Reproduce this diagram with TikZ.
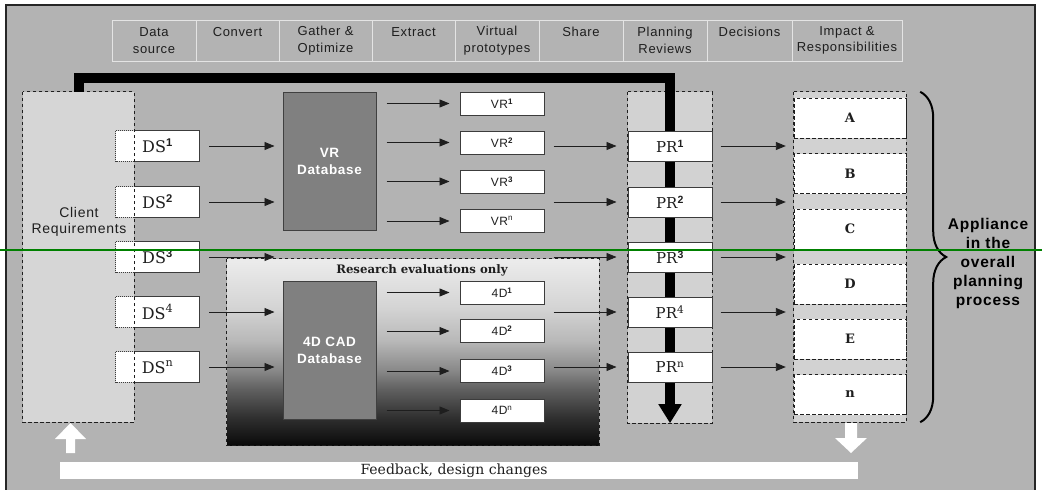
\documentclass[tikz,border=0pt]{standalone}
\usepackage{fontspec}
\setmainfont{DejaVu Serif}
\newfontfamily\sansf{Liberation Sans}[LetterSpace=5]
\newfontfamily\seriff{DejaVu Serif}
\usetikzlibrary{arrows.meta,decorations.pathreplacing,calc}

\definecolor{bg}{RGB}{179,179,179}
\definecolor{hatch}{RGB}{210,210,210}
\definecolor{hatchlight}{RGB}{214,214,214}
\definecolor{dbfill}{RGB}{128,128,128}
\definecolor{dbline}{RGB}{64,64,64}
\definecolor{ink}{RGB}{30,30,30}
\definecolor{boxline}{RGB}{60,60,60}
\definecolor{cellline}{RGB}{228,228,228}
\definecolor{markgreen}{RGB}{0,128,0}
\definecolor{rs0}{RGB}{10,10,10}
\definecolor{rs1}{RGB}{48,48,48}
\definecolor{rs2}{RGB}{96,96,96}
\definecolor{rs3}{RGB}{136,136,136}
\definecolor{rs4}{RGB}{184,184,184}
\definecolor{rs5}{RGB}{212,212,212}
\definecolor{rs6}{RGB}{236,236,236}
% vertical fade of the research area (path spans 25bp..75bp)
\pgfdeclareverticalshading{researchfade}{100bp}{color(0bp)=(rs0); color(25bp)=(rs0);
  color(32.5bp)=(rs1); color(40bp)=(rs2); color(45bp)=(rs3); color(53bp)=(rs4);
  color(62bp)=(rs5); color(75bp)=(rs6); color(100bp)=(rs6)}

\newcommand\supb[1]{\textsuperscript{\sansf\bfseries #1}}
\newcommand\sups[1]{\textsuperscript{#1}}

\tikzset{
  hdrcell/.style={draw=cellline, line width=1pt, minimum height=41pt, inner sep=0pt,
    align=center, text=ink, font=\sansf\fontsize{13}{16.5}\selectfont},
  dashline/.style={draw=ink, line width=0.9pt, dash pattern=on 3.5pt off 2.5pt},
  dotline/.style={draw=boxline, line width=0.8pt, dash pattern=on 1pt off 1pt},
  solidline/.style={draw=boxline, line width=1pt},
  dsbox/.style={fill=white, minimum width=83pt, minimum height=30pt, inner sep=0pt,
    text=ink, font=\seriff\fontsize{16}{18}\selectfont},
  prbox/.style={solidline, fill=white, minimum width=84pt, minimum height=30pt, inner sep=0pt,
    text=ink, font=\seriff\fontsize{15}{18}\selectfont},
  smallbox/.style={solidline, fill=white, minimum width=84pt, minimum height=23pt, inner sep=0pt,
    text=ink, font=\sansf\fontsize{12}{14}\selectfont},
  dbbox/.style={draw=dbline, line width=1pt, fill=dbfill, minimum width=93pt, minimum height=138pt,
    inner sep=0pt, align=center, text=white, font=\sansf\bfseries\fontsize{13.5}{17}\selectfont},
  secbox/.style={dashline, fill=white, minimum width=112pt, minimum height=40pt, inner sep=0pt,
    text=ink, font=\seriff\bfseries\fontsize{13}{15}\selectfont},
  flow/.style={draw=ink, line width=0.9pt, -{Triangle[length=10pt,width=8pt]}},
}

\begin{document}
\begin{tikzpicture}[x=1pt,y=-1pt]
\useasboundingbox (0,0) rectangle (1042,490);

% page frame
\fill[bg] (5,4) rectangle (1035,490);
\draw[line width=1.6pt, black!85] (6,490) -- (6,4.8) -- (1035,4.8) -- (1035,490);

% stage headings
\foreach \xa/\xb/\txt [count=\i] in {
  112/196/{Data\\source}, 196/279/{Convert\\\mbox{}}, 279/372/{Gather \&\\Optimize},
  372/455/{Extract\\\mbox{}}, 455/539/{Virtual\\prototypes}, 539/623/{Share\\\mbox{}},
  623/707/{Planning\\Reviews}, 707/792/{Decisions\\\mbox{}},
  792/902/{Impact \&\\Responsibilities}}
  \node[hdrcell, minimum width=\xb-\xa] (h\i) at ({(\xa+\xb)/2},40.5) {\txt};

% client requirements column
\node[fill=hatchlight, minimum width=111pt, minimum height=330pt, inner sep=0pt] (client) at (78.5,257) {};
\node[align=center, text=ink, font=\sansf\fontsize{14}{15.5}\selectfont] (clienttxt) at (79,222) {Client\\Requirements};

% data sources
\node[dsbox] (ds1) at (157.5,146) {DS\supb{1}};
\node[dsbox] (ds2) at (157.5,202) {DS\supb{2}};
\node[dsbox] (ds3) at (157.5,257) {DS\supb{3}};
\node[dsbox] (ds4) at (157.5,312) {DS\sups{4}};
\node[dsbox] (ds5) at (157.5,367) {DS\sups{n}};
\foreach \n in {ds1,ds2,ds3,ds4,ds5}{
  \draw[dotline] (\n.north west) rectangle (\n.south east);
  \draw[solidline] ([xshift=18pt]\n.north west) -- (\n.north east) -- (\n.south east) -- ([xshift=18pt]\n.south west);
}
\draw[dashline] (client.north west) rectangle (client.south east);

% research area
\node[shading=researchfade, minimum width=372pt, minimum height=186pt, inner sep=0pt] (research) at (413,352) {};
\draw[dashline] (research.north west) rectangle (research.south east);
\node[text=ink, font=\seriff\bfseries\fontsize{11.7}{13}\selectfont] (restxt) at (422,270) {Research evaluations only};

% databases
\node[dbbox] (vrdb) at (329.5,161) {VR\\Database};
\node[dbbox] (cad) at (329.5,350) {4D CAD\\Database};

% virtual prototypes
\node[smallbox] (vr1) at (502,103.5) {VR\supb{1}};
\node[smallbox] (vr2) at (502,142.5) {VR\supb{2}};
\node[smallbox] (vr3) at (502,181.5) {VR\supb{3}};
\node[smallbox] (vr4) at (502,221) {VR\sups{n}};
\node[smallbox] (fd1) at (502,292.5) {4D\supb{1}};
\node[smallbox] (fd2) at (502,331) {4D\supb{2}};
\node[smallbox] (fd3) at (502,371) {4D\supb{3}};
\node[smallbox] (fd4) at (502,410.5) {4D\sups{n}};

% planning reviews column
\node[fill=hatch, minimum width=84pt, minimum height=331pt, inner sep=0pt] (prcol) at (670,257.5) {};
\draw[dashline] (prcol.north west) rectangle (prcol.south east);

% feedback loop from client requirements down the review column
\coordinate (loopL) at (78.5,78);
\draw[line width=10pt, line join=miter, -{Triangle[length=19pt,width=22pt]}]
  (client.north) -- (loopL) -- (loopL -| prcol.north) -- (prcol.south);

\node[prbox] (pr1) at (670,146) {PR\supb{1}};
\node[prbox] (pr2) at (670,202) {PR\supb{2}};
\node[prbox] (pr3) at (670,257) {PR\supb{3}};
\node[prbox] (pr4) at (670,312) {PR\sups{4}};
\node[prbox] (pr5) at (670,367) {PR\sups{n}};

% impact column
\node[fill=hatch, minimum width=112pt, minimum height=330pt, inner sep=0pt] (outcol) at (850,257) {};
\draw[dashline] (outcol.north west) rectangle (outcol.south east);
\node[secbox] (sa) at (850,118) {A};
\node[secbox] (sb) at (850,173.5) {B};
\node[secbox] (sc) at (850,229) {C};
\node[secbox] (sd) at (850,284) {D};
\node[secbox] (se) at (850,339) {E};
\node[secbox] (sn) at (850,394.5) {n};

% connectors: sources to databases
\foreach \n in {ds1,ds2,ds3,ds4,ds5}
  \draw[flow, shorten <=10pt, shorten >=8pt] (\n.east) -- (\n.east -| vrdb.west);

% databases to prototypes
\foreach \n in {vr1,vr2,vr3,vr4}
  \draw[flow, shorten <=10pt, shorten >=10pt] (\n.west -| vrdb.east) -- (\n.west);
\foreach \n in {fd1,fd2,fd3,fd4}
  \draw[flow, shorten <=10pt, shorten >=10pt] (\n.west -| cad.east) -- (\n.west);

% prototypes to reviews
\foreach \n in {pr1,pr2,pr3,pr4,pr5}
  \draw[flow, shorten <=9pt, shorten >=11pt] (\n.west -| vr1.east) -- (\n.west);

% reviews to impact column
\foreach \n in {pr1,pr2,pr3,pr4,pr5}
  \draw[flow, shorten <=8pt, shorten >=8pt] (\n.east) -- (\n.east -| outcol.west);

% brace and its label
\coordinate (brtop) at ([xshift=14pt]outcol.north east);
\draw[decorate, decoration={brace, amplitude=26pt}, line width=2pt, black]
  (brtop) -- (brtop |- outcol.south);
\node[align=center, text=black, font=\sansf\bfseries\fontsize{15.5}{19}\selectfont] (appl) at (988,263)
  {Appliance\\in the\\overall\\planning\\process};

% white feedback arrows and bar
\fill[white] (70.5,423) -- (86,439) -- (75,439) -- (75,453) -- (66,453) -- (66,439) -- (55,439) -- cycle;
\fill[white] (845,423) -- (857,423) -- (857,438) -- (867,438) -- (851,453) -- (835,438) -- (845,438) -- cycle;
\node[fill=white, minimum width=798pt, minimum height=17pt, inner sep=0pt] (feedback) at (459,470.5) {};
\node[text=ink, font=\seriff\fontsize{14}{15}\selectfont] (fbtxt) at (454,470.5) {Feedback, design changes};

% green guide line
\draw[markgreen, line width=1.8pt] (0,250) -- (1042,250);
\end{tikzpicture}
\end{document}
